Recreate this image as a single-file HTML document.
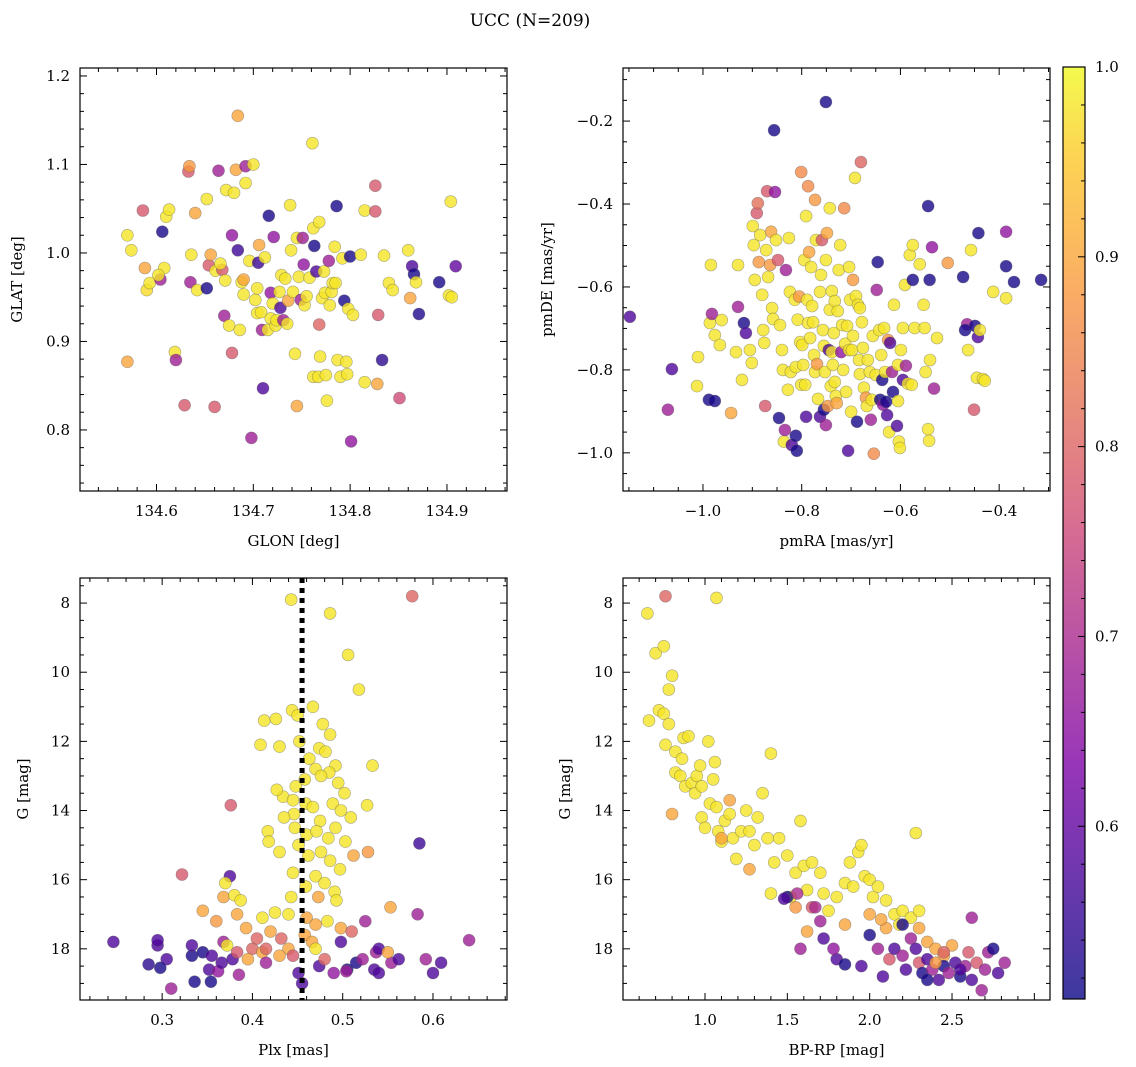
<!DOCTYPE html>
<html><head><meta charset="utf-8">
<style>
html,body{margin:0;padding:0;background:#fff;}
svg{display:block;font-family:"DejaVu Serif","Liberation Serif",serif;}
</style></head>
<body>
<svg id="fig" width="1136" height="1067" viewBox="0 0 1136 1067" xmlns="http://www.w3.org/2000/svg">
<rect width="1136" height="1067" fill="#fff"/>
<text x="530" y="26" font-size="17" text-anchor="middle">UCC (N=209)</text>
</svg>
<script>
// ---- Panel 1: GLON / GLAT ----
const p1_glon=[134.570,134.570,134.574,134.586,134.588,134.590,134.593,134.604,134.606,134.610,134.613,134.619,134.620,134.608,134.602,134.629,134.633,134.634,134.635,134.636,134.640,134.642,134.652,134.652,134.654,134.656,134.660,134.661,134.664,134.668,134.666,134.671,134.670,134.672,134.675,134.678,134.680,134.678,134.682,134.684,134.684,134.686,134.688,134.690,134.690,134.692,134.692,134.696,134.698,134.700,134.702,134.704,134.704,134.705,134.706,134.708,134.709,134.710,134.712,134.715,134.716,134.718,134.718,134.720,134.721,134.723,134.724,134.727,134.728,134.729,134.731,134.733,134.735,134.736,134.738,134.739,134.741,134.743,134.745,134.745,134.747,134.749,134.751,134.752,134.753,134.755,134.758,134.761,134.762,134.762,134.763,134.765,134.767,134.768,134.768,134.769,134.771,134.773,134.774,134.775,134.776,134.778,134.779,134.781,134.782,134.784,134.785,134.786,134.787,134.790,134.792,134.794,134.796,134.797,134.798,134.800,134.801,134.803,134.811,134.815,134.815,134.826,134.826,134.828,134.829,134.833,134.835,134.840,134.844,134.851,134.860,134.862,134.864,134.866,134.868,134.871,134.892,134.902,134.904,134.909,134.905];
const p1_glat=[0.877,1.020,1.003,1.048,0.983,0.958,0.966,0.970,1.024,1.041,1.049,0.888,0.879,0.983,0.975,0.828,1.092,1.098,0.967,0.998,1.045,0.958,1.061,0.960,0.986,0.998,0.826,0.980,1.093,0.981,0.988,0.969,0.929,1.071,0.918,0.887,1.068,1.020,1.094,1.155,1.003,0.913,0.967,0.953,0.970,1.098,1.079,0.991,0.791,1.100,0.947,0.960,0.932,0.989,1.009,0.933,0.913,0.847,0.995,0.913,1.042,0.955,0.926,0.943,1.018,0.918,0.924,0.956,0.938,0.975,0.924,0.971,0.920,0.946,1.054,1.003,0.956,0.886,1.017,0.827,0.973,0.947,1.017,0.987,0.941,0.951,0.972,1.124,0.860,1.028,1.008,0.979,0.860,0.919,1.035,0.883,0.949,0.979,0.955,0.862,0.833,0.991,0.941,0.956,0.966,1.007,0.966,1.053,0.879,0.860,0.994,0.946,0.877,0.863,0.937,0.996,0.787,0.930,0.998,0.854,1.048,1.076,1.047,0.852,0.930,0.879,0.997,0.966,0.958,0.836,1.003,0.949,0.985,0.976,0.967,0.931,0.967,0.952,1.058,0.985,0.950];
const p1_prob=[0.9,0.98,0.98,0.78,0.9,0.97,0.98,0.68,0.52,0.98,0.98,0.98,0.68,0.98,0.98,0.78,0.78,0.88,0.68,0.98,0.9,0.98,0.98,0.52,0.78,0.9,0.78,0.98,0.68,0.78,0.98,0.98,0.68,0.98,0.98,0.78,0.98,0.66,0.9,0.9,0.56,0.98,0.98,0.98,0.9,0.68,0.98,0.98,0.68,0.98,0.98,0.98,0.98,0.56,0.9,0.98,0.68,0.58,0.98,0.98,0.52,0.66,0.98,0.98,0.66,0.98,0.98,0.98,0.58,0.98,0.68,0.98,0.98,0.9,0.98,0.98,0.98,0.98,0.98,0.9,0.98,0.68,0.68,0.66,0.98,0.98,0.98,0.98,0.98,0.98,0.52,0.58,0.98,0.8,0.98,0.98,0.98,0.98,0.98,0.98,0.98,0.68,0.98,0.98,0.98,0.98,0.98,0.52,0.98,0.98,0.98,0.52,0.98,0.98,0.98,0.52,0.66,0.98,0.98,0.98,0.98,0.78,0.78,0.9,0.78,0.54,0.98,0.98,0.98,0.76,0.98,0.9,0.58,0.52,0.98,0.53,0.52,0.98,0.98,0.6,0.98];
// ---- Panel 2: pmRA / pmDE ----
const p2_pmra=[-1.148,-1.063,-1.071,-1.010,-1.012,-0.984,-0.986,-0.982,-0.976,-0.988,-0.976,-0.966,-0.962,-0.943,-0.933,-0.929,-0.929,-0.921,-0.917,-0.913,-0.905,-0.901,-0.899,-0.897,-0.895,-0.891,-0.889,-0.887,-0.884,-0.880,-0.878,-0.876,-0.874,-0.872,-0.870,-0.868,-0.864,-0.862,-0.860,-0.858,-0.856,-0.854,-0.852,-0.848,-0.846,-0.844,-0.840,-0.838,-0.836,-0.834,-0.832,-0.828,-0.826,-0.824,-0.822,-0.820,-0.814,-0.812,-0.812,-0.810,-0.808,-0.805,-0.803,-0.801,-0.801,-0.799,-0.797,-0.795,-0.793,-0.791,-0.791,-0.789,-0.787,-0.787,-0.785,-0.783,-0.781,-0.779,-0.777,-0.775,-0.773,-0.773,-0.771,-0.769,-0.767,-0.763,-0.763,-0.761,-0.759,-0.757,-0.755,-0.755,-0.753,-0.751,-0.751,-0.749,-0.747,-0.745,-0.743,-0.743,-0.741,-0.739,-0.739,-0.737,-0.735,-0.733,-0.733,-0.731,-0.729,-0.727,-0.725,-0.722,-0.720,-0.718,-0.716,-0.714,-0.712,-0.710,-0.708,-0.706,-0.704,-0.704,-0.702,-0.700,-0.698,-0.696,-0.696,-0.692,-0.690,-0.688,-0.686,-0.684,-0.682,-0.682,-0.680,-0.678,-0.676,-0.674,-0.670,-0.668,-0.666,-0.662,-0.660,-0.658,-0.656,-0.654,-0.650,-0.648,-0.646,-0.643,-0.641,-0.639,-0.637,-0.635,-0.633,-0.631,-0.629,-0.627,-0.625,-0.623,-0.621,-0.617,-0.615,-0.613,-0.607,-0.605,-0.605,-0.603,-0.601,-0.599,-0.595,-0.591,-0.595,-0.589,-0.585,-0.581,-0.577,-0.575,-0.571,-0.561,-0.553,-0.551,-0.575,-0.549,-0.540,-0.541,-0.465,-0.544,-0.542,-0.532,-0.526,-0.504,-0.544,-0.536,-0.473,-0.469,-0.463,-0.445,-0.443,-0.433,-0.449,-0.451,-0.457,-0.412,-0.429,-0.442,-0.439,-0.370,-0.386,-0.386,-0.386,-0.315,-0.751];
const p2_pmde=[-0.672,-0.798,-0.896,-0.769,-0.839,-0.547,-0.687,-0.665,-0.716,-0.872,-0.875,-0.740,-0.680,-0.904,-0.757,-0.547,-0.648,-0.824,-0.687,-0.711,-0.752,-0.783,-0.453,-0.499,-0.583,-0.422,-0.398,-0.540,-0.475,-0.619,-0.704,-0.735,-0.887,-0.511,-0.369,-0.576,-0.547,-0.467,-0.651,-0.677,-0.222,-0.371,-0.487,-0.535,-0.916,-0.692,-0.752,-0.800,-0.973,-0.945,-0.559,-0.848,-0.482,-0.612,-0.805,-0.981,-0.631,-0.959,-0.793,-0.995,-0.679,-0.623,-0.733,-0.323,-0.836,-0.740,-0.788,-0.535,-0.836,-0.913,-0.429,-0.631,-0.687,-0.357,-0.516,-0.723,-0.552,-0.646,-0.685,-0.764,-0.805,-0.390,-0.487,-0.786,-0.870,-0.612,-0.913,-0.571,-0.487,-0.704,-0.742,-0.896,-0.805,-0.535,-0.933,-0.470,-0.887,-0.752,-0.410,-0.655,-0.839,-0.610,-0.757,-0.788,-0.711,-0.829,-0.634,-0.863,-0.880,-0.658,-0.559,-0.499,-0.757,-0.692,-0.800,-0.410,-0.737,-0.853,-0.694,-0.995,-0.552,-0.752,-0.631,-0.901,-0.752,-0.718,-0.583,-0.337,-0.622,-0.925,-0.643,-0.776,-0.810,-0.651,-0.299,-0.685,-0.747,-0.843,-0.867,-0.887,-0.776,-0.805,-0.920,-0.872,-0.718,-1.002,-0.812,-0.607,-0.540,-0.704,-0.872,-0.764,-0.824,-0.884,-0.699,-0.805,-0.877,-0.909,-0.728,-0.950,-0.735,-0.805,-0.853,-0.643,-0.935,-0.875,-0.788,-0.973,-0.988,-0.752,-0.824,-0.595,-0.699,-0.790,-0.833,-0.523,-0.836,-0.499,-0.699,-0.545,-0.643,-0.699,-0.583,-0.805,-0.776,-0.583,-0.690,-0.943,-0.971,-0.845,-0.723,-0.542,-0.405,-0.504,-0.576,-0.704,-0.752,-0.819,-0.721,-0.822,-0.694,-0.896,-0.511,-0.612,-0.826,-0.470,-0.704,-0.588,-0.550,-0.467,-0.627,-0.583,-0.154];
const p2_prob=[0.58,0.58,0.68,0.98,0.98,0.98,0.98,0.68,0.98,0.52,0.52,0.98,0.98,0.9,0.98,0.98,0.68,0.98,0.52,0.58,0.98,0.98,0.98,0.98,0.98,0.78,0.82,0.88,0.98,0.98,0.98,0.98,0.78,0.98,0.78,0.98,0.88,0.9,0.98,0.98,0.52,0.66,0.98,0.78,0.52,0.98,0.98,0.98,0.98,0.68,0.68,0.98,0.98,0.98,0.98,0.58,0.98,0.52,0.98,0.52,0.98,0.88,0.98,0.86,0.98,0.98,0.98,0.98,0.98,0.58,0.98,0.98,0.98,0.86,0.9,0.98,0.98,0.98,0.98,0.98,0.98,0.88,0.98,0.88,0.98,0.98,0.58,0.98,0.78,0.98,0.98,0.52,0.98,0.98,0.68,0.9,0.88,0.58,0.98,0.98,0.98,0.98,0.98,0.98,0.98,0.98,0.98,0.98,0.9,0.98,0.98,0.98,0.66,0.98,0.98,0.86,0.98,0.98,0.98,0.58,0.98,0.98,0.98,0.98,0.98,0.98,0.88,0.98,0.98,0.52,0.98,0.98,0.98,0.98,0.8,0.98,0.98,0.98,0.88,0.98,0.98,0.98,0.68,0.98,0.98,0.86,0.98,0.68,0.52,0.98,0.52,0.98,0.52,0.66,0.98,0.98,0.52,0.58,0.88,0.98,0.58,0.68,0.52,0.98,0.58,0.98,0.98,0.98,0.98,0.98,0.58,0.98,0.98,0.68,0.98,0.98,0.98,0.98,0.98,0.98,0.98,0.98,0.52,0.98,0.98,0.52,0.68,0.98,0.98,0.68,0.98,0.88,0.52,0.66,0.52,0.52,0.98,0.98,0.58,0.98,0.52,0.78,0.98,0.98,0.98,0.52,0.98,0.52,0.52,0.66,0.98,0.52,0.52];
// ---- Panel 3: Plx / G ----
const p3_plx=[0.443,0.577,0.486,0.506,0.518,0.413,0.426,0.444,0.450,0.467,0.478,0.486,0.474,0.481,0.492,0.533,0.409,0.430,0.452,0.463,0.470,0.485,0.458,0.476,0.495,0.502,0.448,0.434,0.427,0.445,0.459,0.467,0.489,0.498,0.509,0.527,0.475,0.446,0.435,0.417,0.418,0.447,0.460,0.471,0.484,0.492,0.503,0.451,0.462,0.476,0.486,0.497,0.512,0.528,0.585,0.376,0.430,0.445,0.470,0.480,0.491,0.459,0.443,0.473,0.493,0.375,0.370,0.368,0.380,0.387,0.322,0.345,0.360,0.383,0.411,0.425,0.440,0.460,0.470,0.483,0.498,0.510,0.525,0.553,0.583,0.246,0.285,0.295,0.295,0.305,0.298,0.310,0.333,0.333,0.336,0.345,0.355,0.352,0.354,0.362,0.366,0.368,0.378,0.383,0.393,0.400,0.405,0.411,0.420,0.432,0.440,0.445,0.451,0.455,0.458,0.466,0.470,0.474,0.480,0.490,0.498,0.505,0.515,0.522,0.535,0.537,0.540,0.554,0.562,0.592,0.600,0.609,0.640,0.385,0.415,0.430,0.395,0.372,0.415,0.504,0.540,0.550];
const p3_g=[7.9,7.8,8.3,9.5,10.5,11.4,11.35,11.1,11.25,11.0,11.5,11.8,12.2,12.3,12.7,12.7,12.1,12.15,12.0,12.5,12.8,12.9,13.1,13.0,13.2,13.5,13.3,13.6,13.4,13.7,13.8,13.9,13.8,14.0,14.2,13.85,14.3,14.1,14.2,14.6,14.9,14.5,14.7,14.6,14.8,14.5,14.9,15.0,15.3,15.2,15.45,15.7,15.3,15.2,14.95,13.85,15.2,15.8,15.9,16.1,16.35,16.2,16.5,16.5,16.6,15.9,16.1,16.5,16.45,16.6,15.85,16.9,17.2,17.0,17.1,16.95,17.0,17.1,17.3,17.2,17.4,17.5,17.2,16.8,17.0,17.8,18.45,17.9,17.75,18.3,18.55,19.15,18.2,17.9,18.95,18.1,18.2,18.6,18.95,18.65,18.4,17.8,18.3,18.1,17.4,18.0,17.7,18.1,17.5,17.7,18.0,18.2,18.7,19.0,17.6,17.8,18.0,18.5,18.3,18.7,17.8,18.6,18.4,18.3,18.6,18.1,18.0,18.4,18.3,18.3,18.7,18.4,17.75,18.75,18.4,18.2,18.3,17.9,18.0,18.65,18.7,18.1];
const p3_prob=[0.98,0.8,0.98,0.98,0.98,0.98,0.98,0.98,0.98,0.98,0.98,0.98,0.98,0.98,0.98,0.98,0.98,0.98,0.98,0.98,0.98,0.98,0.98,0.98,0.98,0.98,0.98,0.98,0.98,0.98,0.98,0.98,0.98,0.98,0.98,0.98,0.98,0.98,0.98,0.98,0.98,0.98,0.98,0.98,0.98,0.98,0.98,0.98,0.98,0.98,0.98,0.98,0.9,0.88,0.56,0.78,0.98,0.98,0.98,0.98,0.98,0.98,0.98,0.9,0.98,0.58,0.98,0.9,0.98,0.98,0.78,0.9,0.88,0.9,0.98,0.98,0.98,0.9,0.9,0.98,0.9,0.8,0.68,0.9,0.68,0.58,0.54,0.58,0.58,0.58,0.52,0.68,0.52,0.58,0.52,0.52,0.58,0.58,0.52,0.66,0.58,0.68,0.58,0.78,0.9,0.8,0.8,0.9,0.9,0.8,0.9,0.78,0.58,0.58,0.9,0.9,0.98,0.58,0.8,0.66,0.58,0.52,0.52,0.68,0.58,0.68,0.58,0.68,0.58,0.68,0.58,0.58,0.68,0.68,0.68,0.9,0.9,0.98,0.8,0.68,0.58,0.9];
// ---- Panel 4: BP-RP / G ----
const p4_bprp=[0.65,0.66,0.70,0.75,0.72,0.75,0.78,0.80,0.78,0.76,0.82,0.82,0.86,0.87,0.90,0.85,0.88,0.92,0.95,0.94,0.97,0.98,1.02,1.06,1.05,0.98,1.00,1.03,1.07,1.08,1.10,1.12,1.15,1.17,1.19,1.22,1.25,1.27,1.30,1.32,1.35,1.38,1.40,1.42,1.45,1.50,1.52,1.55,1.58,1.60,1.62,1.65,1.70,1.72,1.75,1.80,1.85,1.88,1.90,1.93,1.95,1.97,2.00,2.02,2.05,2.10,2.15,2.18,2.20,2.28,2.25,2.30,0.76,1.07,0.80,1.10,1.15,1.27,1.55,1.62,1.65,1.85,2.00,2.10,2.30,2.35,2.40,2.45,2.50,1.50,1.58,1.70,1.72,1.80,1.78,1.85,1.95,2.00,2.05,2.08,2.12,2.15,2.20,2.22,2.25,2.28,2.30,2.32,2.35,2.38,2.42,2.45,2.48,2.52,2.55,2.58,2.60,2.62,2.65,2.68,2.70,2.72,2.75,2.78,2.82,2.62,2.45,2.40,2.55,2.35,1.40,1.48,1.56,1.67,2.07,2.20];
const p4_g=[8.3,11.4,9.45,9.25,11.1,11.2,10.5,10.1,11.5,12.1,12.3,12.9,12.5,11.9,11.85,13.0,13.3,13.2,13.0,13.5,12.7,13.3,12.0,12.6,13.1,14.2,14.5,13.8,13.9,14.6,14.9,14.3,14.1,14.8,15.4,14.6,14.0,14.6,15.0,14.2,13.5,14.8,12.35,15.5,14.8,15.3,16.5,15.8,14.3,15.6,16.3,15.5,15.8,16.4,16.9,16.5,16.1,15.5,16.2,15.2,15.0,15.9,16.0,16.5,16.2,16.6,17.0,17.3,16.9,14.65,17.1,16.9,7.8,7.85,14.1,14.8,13.7,15.7,16.8,17.5,16.8,17.3,17.0,17.4,17.4,17.8,18.0,18.2,17.9,16.5,18.0,17.2,17.7,18.3,18.0,18.45,18.5,17.6,18.0,18.8,18.3,18.0,18.2,18.6,17.7,18.0,18.4,18.7,18.3,18.6,18.9,18.5,18.7,18.4,18.8,18.5,18.1,18.9,18.4,19.2,18.6,18.1,18.0,18.7,18.4,17.1,18.1,18.4,18.6,18.9,16.4,16.55,16.4,16.8,17.15,17.3];
const p4_prob=[0.98,0.98,0.98,0.98,0.98,0.98,0.98,0.98,0.98,0.98,0.98,0.98,0.98,0.98,0.98,0.98,0.98,0.98,0.98,0.98,0.98,0.98,0.98,0.98,0.98,0.98,0.98,0.98,0.98,0.98,0.98,0.98,0.98,0.98,0.98,0.98,0.98,0.98,0.98,0.98,0.98,0.98,0.98,0.98,0.98,0.98,0.98,0.98,0.98,0.98,0.98,0.98,0.98,0.98,0.98,0.98,0.98,0.98,0.98,0.98,0.98,0.98,0.98,0.98,0.98,0.98,0.98,0.98,0.98,0.98,0.98,0.98,0.8,0.98,0.9,0.9,0.9,0.9,0.88,0.9,0.78,0.9,0.9,0.9,0.9,0.9,0.9,0.9,0.9,0.52,0.68,0.68,0.58,0.58,0.66,0.52,0.58,0.52,0.68,0.58,0.78,0.58,0.68,0.58,0.68,0.58,0.78,0.52,0.58,0.68,0.58,0.52,0.68,0.58,0.52,0.68,0.78,0.58,0.78,0.68,0.68,0.68,0.52,0.58,0.68,0.68,0.8,0.88,0.58,0.52,0.98,0.58,0.7,0.7,0.9,0.52];

const NS='http://www.w3.org/2000/svg';
const svg=document.getElementById('fig');
const stops=[[0,[13,8,135]],[0.125,[65,4,157]],[0.25,[106,0,168]],[0.375,[143,13,164]],[0.5,[177,42,144]],[0.625,[204,71,120]],[0.75,[225,100,98]],[0.875,[242,132,75]],[1,[252,166,54]]];
const stops2=[[0,[13,8,135]],[0.25,[126,3,168]],[0.5,[204,71,120]],[0.75,[248,149,64]],[0.9,[253,199,40]],[1,[240,249,33]]];
function plasma(t){t=Math.max(0,Math.min(1,t));for(let i=1;i<stops2.length;i++){if(t<=stops2[i][0]){const a=stops2[i-1],b=stops2[i];const f=(t-a[0])/(b[0]-a[0]);return 'rgb('+[0,1,2].map(k=>Math.round(a[1][k]+f*(b[1][k]-a[1][k]))).join(',')+')';}}return 'rgb(240,249,33)';}
const CMIN=0.509,CMAX=1.0;
function mk(tag,attrs,parent){const e=document.createElementNS(NS,tag);for(const k in attrs)e.setAttribute(k,attrs[k]);(parent||svg).appendChild(e);return e;}

function panel(cfg){
  const g=mk('g',{});
  
  
  const {x0,x1,y0,y1,xmin,xmax,ymin,ymax,inv}=cfg;
  const sx=v=>x0+(v-xmin)/(xmax-xmin)*(x1-x0);
  const sy=v=>inv? y0+(v-ymin)/(ymax-ymin)*(y1-y0) : y1-(v-ymin)/(ymax-ymin)*(y1-y0);
  const pts=mk('g',{},g);
  
  
  for(let i=0;i<cfg.xs.length;i++){
    const c=mk('circle',{cx:sx(cfg.xs[i]).toFixed(1),cy:sy(cfg.ys[i]).toFixed(1),r:6,fill:plasma((cfg.ps[i]-CMIN)/(CMAX-CMIN)),'fill-opacity':0.8,stroke:'#555','stroke-opacity':0.5,'stroke-width':0.6},pts);
    
    
  }
  if(cfg.vline!==undefined){
    const l=mk('line',{x1:sx(cfg.vline),x2:sx(cfg.vline),y1:y0,y2:y1,stroke:'#000','stroke-width':5,'stroke-dasharray':'5 5'},g);
    
    
  }
  const fr=mk('rect',{x:x0,y:y0,width:x1-x0,height:y1-y0,fill:'none',stroke:'#000','stroke-width':1.2},g);
  
  
  // ticks
  const eps=1e-9;
  for(let v=Math.ceil(xmin/cfg.xminor-eps)*cfg.xminor;v<=xmax+eps;v+=cfg.xminor){
    const X=sx(v);const major=Math.abs(v/cfg.xmajor-Math.round(v/cfg.xmajor))<1e-6;const L=major?7:4;
    mk('line',{x1:X,x2:X,y1:y1,y2:y1-L,stroke:'#000','stroke-width':1},g);
    mk('line',{x1:X,x2:X,y1:y0,y2:y0+L,stroke:'#000','stroke-width':1},g);
  }
  for(let v=Math.ceil(ymin/cfg.yminor-eps)*cfg.yminor;v<=ymax+eps;v+=cfg.yminor){
    const Y=sy(v);const major=Math.abs(v/cfg.ymajor-Math.round(v/cfg.ymajor))<1e-6;const L=major?7:4;
    mk('line',{x1:x0,x2:x0+L,y1:Y,y2:Y,stroke:'#000','stroke-width':1},g);
    mk('line',{x1:x1,x2:x1-L,y1:Y,y2:Y,stroke:'#000','stroke-width':1},g);
  }
  cfg.xticks.forEach(t=>{const e=mk('text',{x:sx(t),y:y1+25,'font-size':15,'text-anchor':'middle'},g);e.textContent=(t<0?'\u2212':'')+Math.abs(t).toFixed(cfg.xdec);});
  cfg.yticks.forEach(t=>{const e=mk('text',{x:x0-10,y:sy(t)+5,'font-size':15,'text-anchor':'end'},g);e.textContent=(t<0?'\u2212':'')+Math.abs(t).toFixed(cfg.ydec);});
  const xl=mk('text',{x:(x0+x1)/2,y:y1+55,'font-size':15,'text-anchor':'middle'},g);xl.textContent=cfg.xlabel;
  
  
  const yl=mk('text',{x:0,y:0,'font-size':15,'text-anchor':'middle',transform:`translate(${cfg.ylx},${(y0+y1)/2}) rotate(-90)`},g);yl.textContent=cfg.ylabel;
  
  
}
panel({name:'glon-glat-panel',x0:80,x1:507,y0:68,y1:491,xmin:134.521,xmax:134.962,ymin:0.731,ymax:1.209,xs:p1_glon,ys:p1_glat,ps:p1_prob,xmajor:0.1,xminor:0.02,ymajor:0.1,yminor:0.02,xticks:[134.6,134.7,134.8,134.9],yticks:[0.8,0.9,1.0,1.1,1.2],xdec:1,ydec:1,xlabel:'GLON [deg]',ylabel:'GLAT [deg]',ylx:22});
panel({name:'pm-panel',x0:623,x1:1050,y0:68,y1:491,xmin:-1.162,xmax:-0.297,ymin:-1.092,ymax:-0.072,xs:p2_pmra,ys:p2_pmde,ps:p2_prob,xmajor:0.2,xminor:0.05,ymajor:0.2,yminor:0.05,xticks:[-1.0,-0.8,-0.6,-0.4],yticks:[-1.0,-0.8,-0.6,-0.4,-0.2],xdec:1,ydec:1,xlabel:'pmRA [mas/yr]',ylabel:'pmDE [mas/yr]',ylx:552});
panel({name:'plx-g-panel',x0:80,x1:507,y0:578,y1:1000,xmin:0.209,xmax:0.682,ymin:7.275,ymax:19.48,inv:true,xs:p3_plx,ys:p3_g,ps:p3_prob,xmajor:0.1,xminor:0.02,ymajor:2,yminor:0.5,xticks:[0.3,0.4,0.5,0.6],yticks:[8,10,12,14,16,18],xdec:1,ydec:0,xlabel:'Plx [mas]',ylabel:'G [mag]',ylx:28,vline:0.455});
panel({name:'cmd-panel',x0:623,x1:1050,y0:578,y1:1000,xmin:0.502,xmax:3.095,ymin:7.275,ymax:19.48,inv:true,xs:p4_bprp,ys:p4_g,ps:p4_prob,xmajor:0.5,xminor:0.1,ymajor:2,yminor:0.5,xticks:[1.0,1.5,2.0,2.5],yticks:[8,10,12,14,16,18],xdec:1,ydec:0,xlabel:'BP-RP [mag]',ylabel:'G [mag]',ylx:570});

// colorbar
const cb=mk('g',{});


const defs=mk('defs',{},cb);
const lg=mk('linearGradient',{id:'cbg',x1:0,y1:1,x2:0,y2:0},defs);
for(let i=0;i<=20;i++){mk('stop',{offset:i/20,'stop-color':plasma(i/20),'stop-opacity':0.8},lg);}
const CB={x0:1063,x1:1085,y0:67,y1:999};
mk('rect',{x:CB.x0,y:CB.y0,width:CB.x1-CB.x0,height:CB.y1-CB.y0,fill:'url(#cbg)',stroke:'#000','stroke-width':1.2},cb);
const cy=v=>CB.y1-(v-CMIN)/(CMAX-CMIN)*(CB.y1-CB.y0);
for(let v=0.52;v<=1.0001;v+=0.02){const major=Math.abs(v*10-Math.round(v*10))<1e-6;mk('line',{x1:CB.x1,x2:CB.x1-(major?7:4),y1:cy(v),y2:cy(v),stroke:'#000','stroke-width':1},cb);}
[0.6,0.7,0.8,0.9,1.0].forEach(v=>{const t=mk('text',{x:1095,y:cy(v)+5,'font-size':15},cb);t.textContent=v.toFixed(1);});
</script>
</body></html>
